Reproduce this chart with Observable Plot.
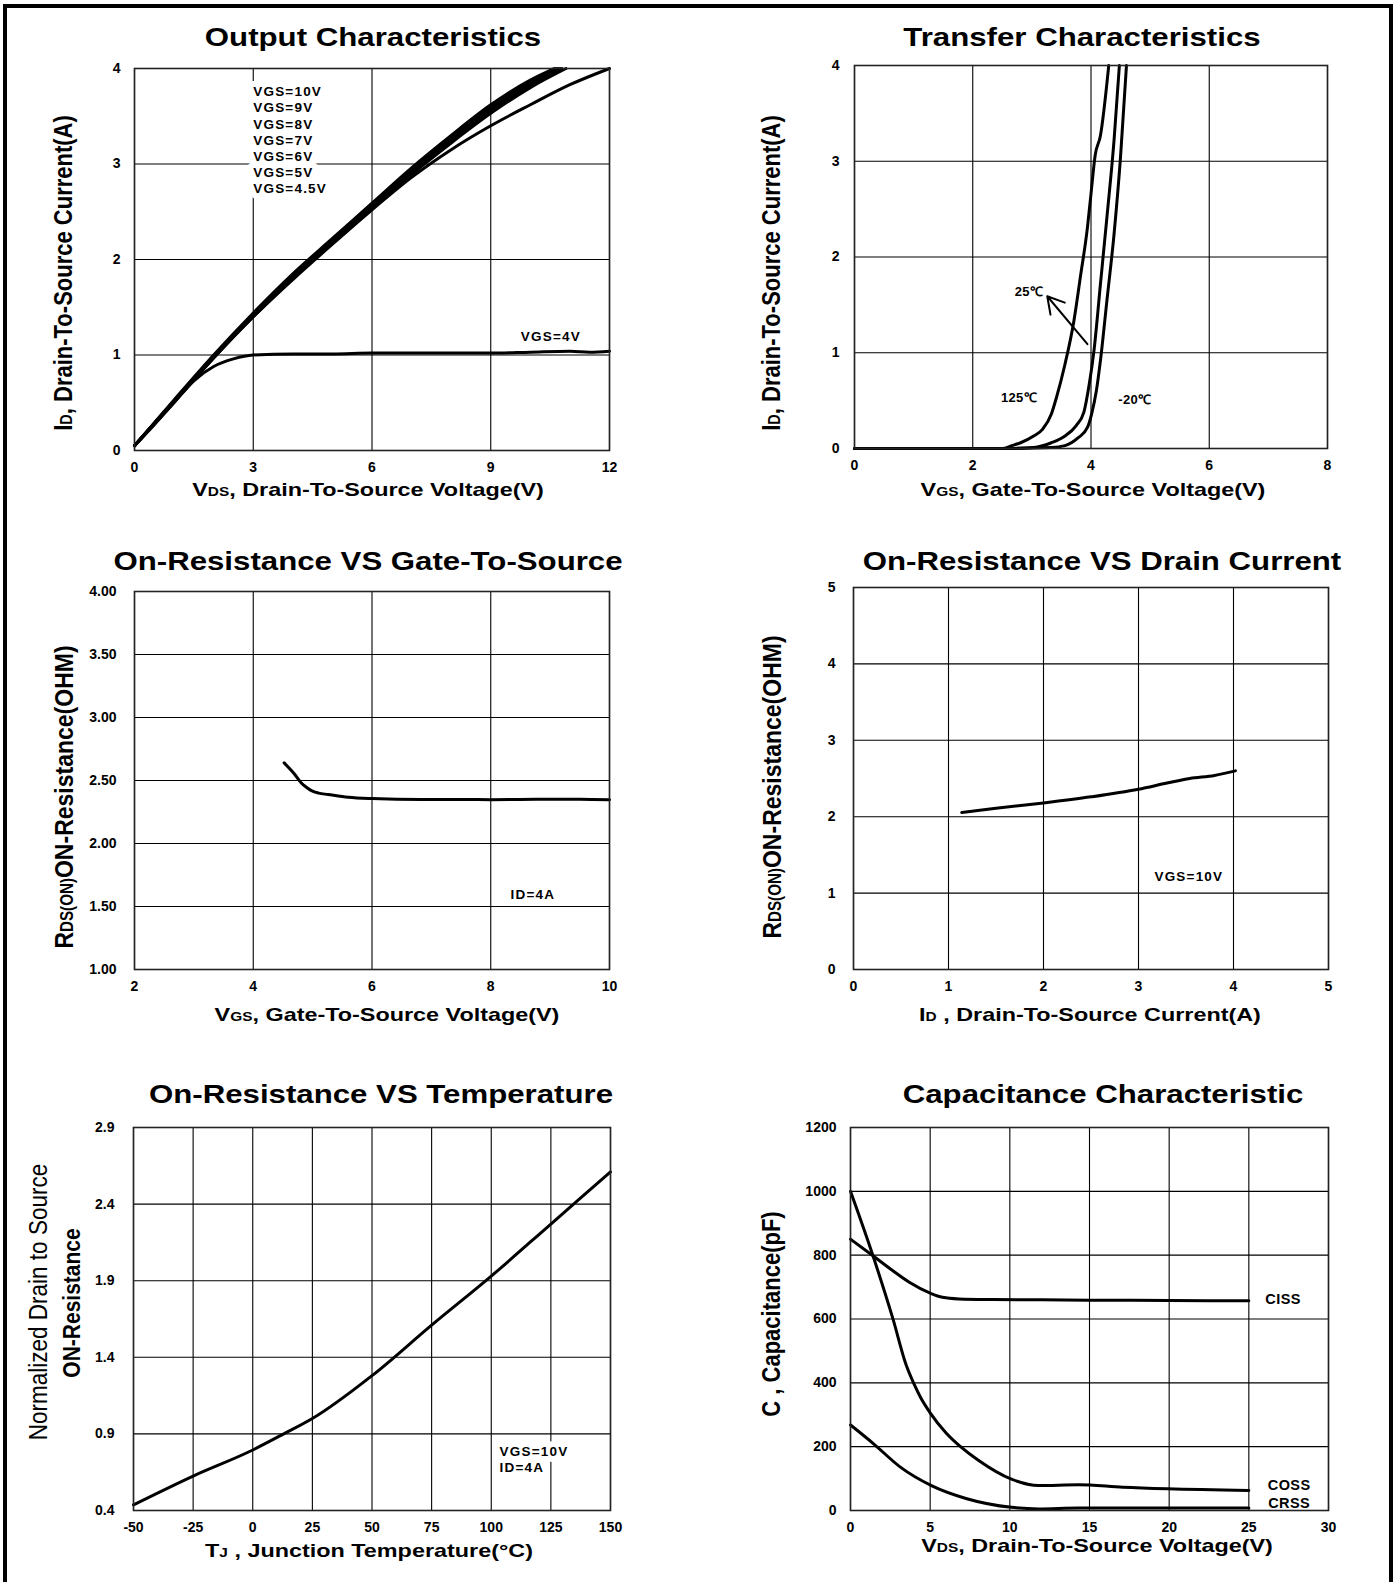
<!DOCTYPE html>
<html><head><meta charset="utf-8">
<script src="https://cdn.jsdelivr.net/npm/d3@7"></script>
<script src="https://cdn.jsdelivr.net/npm/@observablehq/plot@0.6"></script>
<style>
html,body{margin:0;padding:0;background:#fff;overflow:hidden;}
#root{position:relative;width:1397px;height:1582px;overflow:hidden;background:#fff;font-family:"Liberation Sans",Arial,Helvetica,sans-serif;color:#000;}
.frameBorder{position:absolute;left:3px;top:4px;width:1390px;height:1700px;box-sizing:border-box;border:4px solid #000;border-bottom:none;}
.lbl{position:absolute;white-space:nowrap;font-weight:bold;line-height:1;transform-origin:0 0;}
.sm{font-size:0.66em;}
</style></head><body><div id="root"><div class="frameBorder"></div></div>
<script>
// ---------- Panel 1: Output Characteristics ----------
const outX10 = [0,1,2,3,4,5,6,7,8,9,10,10.6];
const outId10 = [0.05,0.53,1.00,1.44,1.85,2.22,2.59,2.96,3.30,3.62,3.88,4.0];
const outX9 = [0,1,2,3,4,5,6,7,8,9,10,10.65];
const outId9 = [0.05,0.52,0.99,1.43,1.84,2.21,2.58,2.95,3.29,3.61,3.87,4.0];
const outX8 = [0,1,2,3,4,5,6,7,8,9,10,10.7];
const outId8 = [0.05,0.52,0.99,1.42,1.83,2.20,2.56,2.93,3.27,3.59,3.85,4.0];
const outX7 = [0,1,2,3,4,5,6,7,8,9,10,10.75];
const outId7 = [0.05,0.51,0.98,1.42,1.82,2.19,2.55,2.92,3.26,3.57,3.84,4.0];
const outX6 = [0,1,2,3,4,5,6,7,8,9,10,10.8];
const outId6 = [0.05,0.51,0.98,1.41,1.81,2.18,2.54,2.90,3.24,3.55,3.82,4.0];
const outX5 = [0,1,2,3,4,5,6,7,8,9,10,10.9];
const outId5 = [0.05,0.51,0.97,1.40,1.80,2.17,2.53,2.89,3.22,3.53,3.80,4.0];
const outX45 = [0,1,2,3,4,5,6,7,8,9,10,11,12];
const outId45 = [0.05,0.51,0.97,1.40,1.79,2.16,2.52,2.86,3.15,3.40,3.62,3.83,4.0];
const outX4 = [0,0.5,1,1.5,2,2.5,3,4,5,6,7,8,9,10,11,11.5,12];
const outId4 = [0.05,0.27,0.50,0.73,0.88,0.96,1.0,1.01,1.01,1.02,1.02,1.02,1.02,1.03,1.04,1.03,1.04];
const outXTicks = [0,3,6,9,12];
const outYTicks = [0,1,2,3,4];
const outBundleNames = ["VGS=10V","VGS=9V","VGS=8V","VGS=7V","VGS=6V","VGS=5V","VGS=4.5V"];
const outNotes = [{text: outBundleNames.join("\n"), x: 3.0, y: 3.83, a: "start", l: "top"},
                  {text: "VGS=4V", x: 10.52, y: 1.2, a: "middle", l: "middle"}];

// ---------- Panel 2: Transfer Characteristics ----------
const trX125 = [0,1,2,2.5,2.66,2.81,3.03,3.18,3.33,3.41,3.56,3.71,3.82,3.94,4.0,4.07,4.16,4.3];
const trY125 = [0,0,0,0,0.03,0.06,0.13,0.2,0.36,0.52,0.88,1.33,1.79,2.31,2.66,3.06,3.27,4.0];
const trX25 = [0,1,2,2.5,3.03,3.33,3.56,3.75,3.88,3.97,4.05,4.16,4.27,4.39,4.48];
const trY25 = [0,0,0,0,0.01,0.06,0.13,0.24,0.38,0.67,1.02,1.72,2.42,3.22,4.0];
const trXm20 = [0,1,2,2.5,3.33,3.56,3.78,3.94,4.01,4.09,4.16,4.27,4.39,4.5,4.6];
const trYm20 = [0,0,0,0,0.01,0.03,0.11,0.22,0.36,0.6,0.92,1.55,2.24,3.05,4.0];
const trXTicks = [0,2,4,6,8];
const trYTicks = [0,1,2,3,4];
const trNotes = [{text:"25℃", x:2.95, y:1.65, a:"middle", l:"middle"},
                 {text:"125℃", x:2.78, y:0.54, a:"middle", l:"middle"},
                 {text:"-20℃", x:4.74, y:0.52, a:"middle", l:"middle"}];
const trArrow = [{x1:3.94, y1:1.09, x2:3.26, y2:1.59}];

// ---------- Panel 3: On-Resistance vs Gate-To-Source ----------
const rgX = [4.52,4.7,4.81,4.9,4.98,5.1,5.26,5.6,6.0,6.83,7.5,8,8.5,9,9.5,10];
const rgY = [2.64,2.548,2.48,2.445,2.42,2.40,2.389,2.367,2.357,2.35,2.35,2.348,2.35,2.352,2.352,2.348];
const rgXTicks = [2,4,6,8,10];
const rgYTicks = [1,1.5,2,2.5,3,3.5,4];
const rgNotes = [{text:"ID=4A", x:8.71, y:1.6, a:"middle", l:"middle"}];

// ---------- Panel 4: On-Resistance vs Drain Current ----------
const riX = [1.14,1.5,2.0,2.5,3.0,3.3,3.54,3.8,4.02];
const riY = [2.055,2.11,2.18,2.26,2.36,2.44,2.5,2.54,2.6];
const riXTicks = [0,1,2,3,4,5];
const riYTicks = [0,1,2,3,4,5];
const riNotes = [{text:"VGS=10V", x:3.53, y:1.23, a:"middle", l:"middle"}];

// ---------- Panel 5: On-Resistance vs Temperature ----------
const rtX = [-50,-25,0,13,25,50,75,100,125,150];
const rtY = [0.437,0.625,0.795,0.9,1.0,1.28,1.61,1.93,2.27,2.61];
const rtXTicks = [-50,-25,0,25,50,75,100,125,150];
const rtYTicks = [0.4,0.9,1.4,1.9,2.4,2.9];
const rtNotes = [{text:"VGS=10V\nID=4A", x:103.5, y:0.834, a:"start", l:"top"}];

// ---------- Panel 6: Capacitance Characteristic ----------
const cisX = [0,1.41,2.66,3.69,5.0,5.77,6.8,8.9,12,15,20,25];
const cisY = [850,798,751,715,681,668,663,661,660,659,658,657];
const cosX = [0,1.41,2.66,3.5,4.0,4.4,5.0,6.0,7.0,8.0,10.1,11.8,14.3,17.1,19.9,25];
const cosY = [1000,798,601,455,395,354,306,243,196,158,98,78,81,73,68,63];
const crsX = [0,1.45,3.13,5.08,7.3,10.1,11.8,14.3,20,25];
const crsY = [268,209,136,78,37,10,5,8,8,8];
const capXTicks = [0,5,10,15,20,25,30];
const capYTicks = [0,200,400,600,800,1000,1200];
const capNotes = [{text:"CISS", x:27.15, y:663, a:"middle", l:"middle"},
                  {text:"COSS", x:27.53, y:82, a:"middle", l:"middle"},
                  {text:"CRSS", x:27.53, y:25, a:"middle", l:"middle"}];

// ---------- helpers ----------
const root = document.getElementById("root");
const FONT = "'Liberation Sans', Arial, Helvetica, sans-serif";
const ML = 60, MR = 40, MT = 14, MB = 40;
const series = (xs, ys, name) => xs.map((x, i) => ({x, y: ys[i], s: name}));
const curve = (rows) => Plot.line(rows, {x:"x", y:"y", z:"s", stroke:"#000", strokeWidth:3, curve:"monotone-x", strokeLinejoin:"round"});
function noteMarks(rows, size) {
  return rows.map(r => Plot.text([r], {x:"x", y:"y", text:"text", textAnchor:r.a, lineAnchor:r.l,
    fontSize:size, fontWeight:"bold", fill:"#000", stroke:"#fff", strokeWidth:12, lineHeight:1.2}));
}

function panel(cfg) {
  const w = cfg.fx1 - cfg.fx0, h = cfg.fy1 - cfg.fy0;
  const svg = Plot.plot({
    width: w + ML + MR, height: h + MT + MB,
    marginLeft: ML, marginRight: MR, marginTop: MT, marginBottom: MB,
    style: {fontFamily: FONT, fontSize: "14px", fontWeight: "bold", background: "transparent", overflow: "visible", maxWidth: "none", color: "#000"},
    x: {domain: cfg.xDomain},
    y: {domain: cfg.yDomain},
    marks: [
      Plot.gridX(cfg.xTicks, {stroke:"#000", strokeOpacity:1, strokeWidth:1.1}),
      Plot.gridY(cfg.yTicks, {stroke:"#000", strokeOpacity:1, strokeWidth:1.1}),
      ...noteMarks(cfg.notes || [], cfg.noteSize || 13.5),
      ...cfg.marks,
      Plot.frame({stroke:"#222", strokeWidth:1.6}),
      Plot.axisX(cfg.xTicks, {tickSize:0, tickPadding:12, label:null, tickFormat: cfg.xFmt || (d => String(d)), fontSize:14, fontWeight:"bold"}),
      Plot.axisY(cfg.yTicks, {tickSize:0, tickPadding: cfg.yPad, label:null, tickFormat: cfg.yFmt || (d => String(d)), fontSize:14, fontWeight:"bold"})
    ]
  });
  d3.select(svg).selectAll('g[aria-label="text"] text').attr("letter-spacing", cfg.ls ?? 1.2);
  svg.style.position = "absolute";
  svg.style.left = (cfg.fx0 - ML) + "px";
  svg.style.top = (cfg.fy0 - MT) + "px";
  root.append(svg);
}

panel({fx0:134, fx1:609, fy0:68, fy1:450, xDomain:[0,12], yDomain:[0,4], xTicks:outXTicks, yTicks:outYTicks, yPad:14,
  notes: outNotes,
  marks:[curve([...series(outX10,outId10,"10"),...series(outX9,outId9,"9"),...series(outX8,outId8,"8"),
                ...series(outX7,outId7,"7"),...series(outX6,outId6,"6"),...series(outX5,outId5,"5"),
                ...series(outX45,outId45,"4.5"),...series(outX4,outId4,"4")])]});

panel({fx0:854, fx1:1327, fy0:65, fy1:448, xDomain:[0,8], yDomain:[0,4], xTicks:trXTicks, yTicks:trYTicks, yPad:15,
  notes: trNotes, noteSize:13, ls:0.3,
  marks:[curve([...series(trX125,trY125,"125"),...series(trX25,trY25,"25"),...series(trXm20,trYm20,"-20")]),
         Plot.arrow(trArrow, {x1:"x1", y1:"y1", x2:"x2", y2:"y2", stroke:"#000", strokeWidth:2, headLength:14})]});

panel({fx0:134, fx1:609, fy0:591, fy1:969, xDomain:[2,10], yDomain:[1,4], xTicks:rgXTicks, yTicks:rgYTicks, yPad:18,
  yFmt: d3.format(".2f"), notes: rgNotes,
  marks:[curve(series(rgX,rgY,"r"))]});

panel({fx0:853, fx1:1328, fy0:587, fy1:969, xDomain:[0,5], yDomain:[0,5], xTicks:riXTicks, yTicks:riYTicks, yPad:18,
  notes: riNotes,
  marks:[curve(series(riX,riY,"r"))]});

panel({fx0:133, fx1:610, fy0:1127, fy1:1510, xDomain:[-50,150], yDomain:[0.4,2.9], xTicks:rtXTicks, yTicks:rtYTicks, yPad:19,
  yFmt: d3.format(".1f"), notes: rtNotes,
  marks:[curve(series(rtX,rtY,"t"))]});

panel({fx0:850, fx1:1328, fy0:1127, fy1:1510, xDomain:[0,30], yDomain:[0,1200], xTicks:capXTicks, yTicks:capYTicks, yPad:14,
  notes: capNotes, noteSize:14.5, ls:0.4,
  marks:[curve([...series(cisX,cisY,"ciss"),...series(cosX,cosY,"coss"),...series(crsX,crsY,"crss")])]});

// ---------- titles and axis labels ----------
const titles = [
  ["Output Characteristics", 373, 37],
  ["Transfer Characteristics", 1082, 37],
  ["On-Resistance VS Gate-To-Source", 368, 561],
  ["On-Resistance VS Drain Current", 1102, 561],
  ["On-Resistance VS Temperature", 381, 1094],
  ["Capacitance Characteristic", 1103, 1094]
];
const xLabels = [
  ["V<span class='sm'>DS</span>, Drain-To-Source Voltage(V)", 368, 489],
  ["V<span class='sm'>GS</span>, Gate-To-Source Voltage(V)", 1093, 489],
  ["V<span class='sm'>GS</span>, Gate-To-Source Voltage(V)", 387, 1014],
  ["I<span class='sm'>D</span> , Drain-To-Source Current(A)", 1090, 1014],
  ["T<span class='sm'>J</span> , Junction Temperature(°C)", 369, 1550],
  ["V<span class='sm'>DS</span>, Drain-To-Source Voltage(V)", 1097, 1545]
];
const yLabels = [
  ["I<span class='sm'>D</span>, Drain-To-Source Current(A)", 64, 273, 22, null],
  ["I<span class='sm'>D</span>, Drain-To-Source Current(A)", 772, 273, 22, null],
  ["R<span class='sm'>DS(ON)</span>ON-Resistance(OHM)", 64, 797, 23, null],
  ["R<span class='sm'>DS(ON)</span>ON-Resistance(OHM)", 772, 787, 23, null],
  ["Normalized Drain to Source", 39, 1302, 22.5, "normal"],
  ["ON-Resistance", 71, 1303, 21, null],
  ["C , Capacitance(pF)", 772, 1314, 22, null]
];

function addLabel(html, x, y, size, sx, rot, weight) {
  const d = document.createElement("div");
  d.className = "lbl";
  d.innerHTML = html;
  d.style.left = x + "px"; d.style.top = y + "px"; d.style.fontSize = size + "px";
  if (weight) d.style.fontWeight = weight;
  d.style.transform = rot ? `scale(${sx},1) rotate(-90deg) translate(-50%,-50%)` : `scale(${sx},1) translate(-50%,-50%)`;
  root.append(d);
}
titles.forEach(([t, x, y]) => addLabel(t, x, y, 26, 1.2, false));
xLabels.forEach(([t, x, y]) => addLabel(t, x, y, 19, 1.23, false));
yLabels.forEach(([t, x, y, s, wt]) => addLabel(t, x, y, s, 1.15, true, wt));
</script></body></html>
